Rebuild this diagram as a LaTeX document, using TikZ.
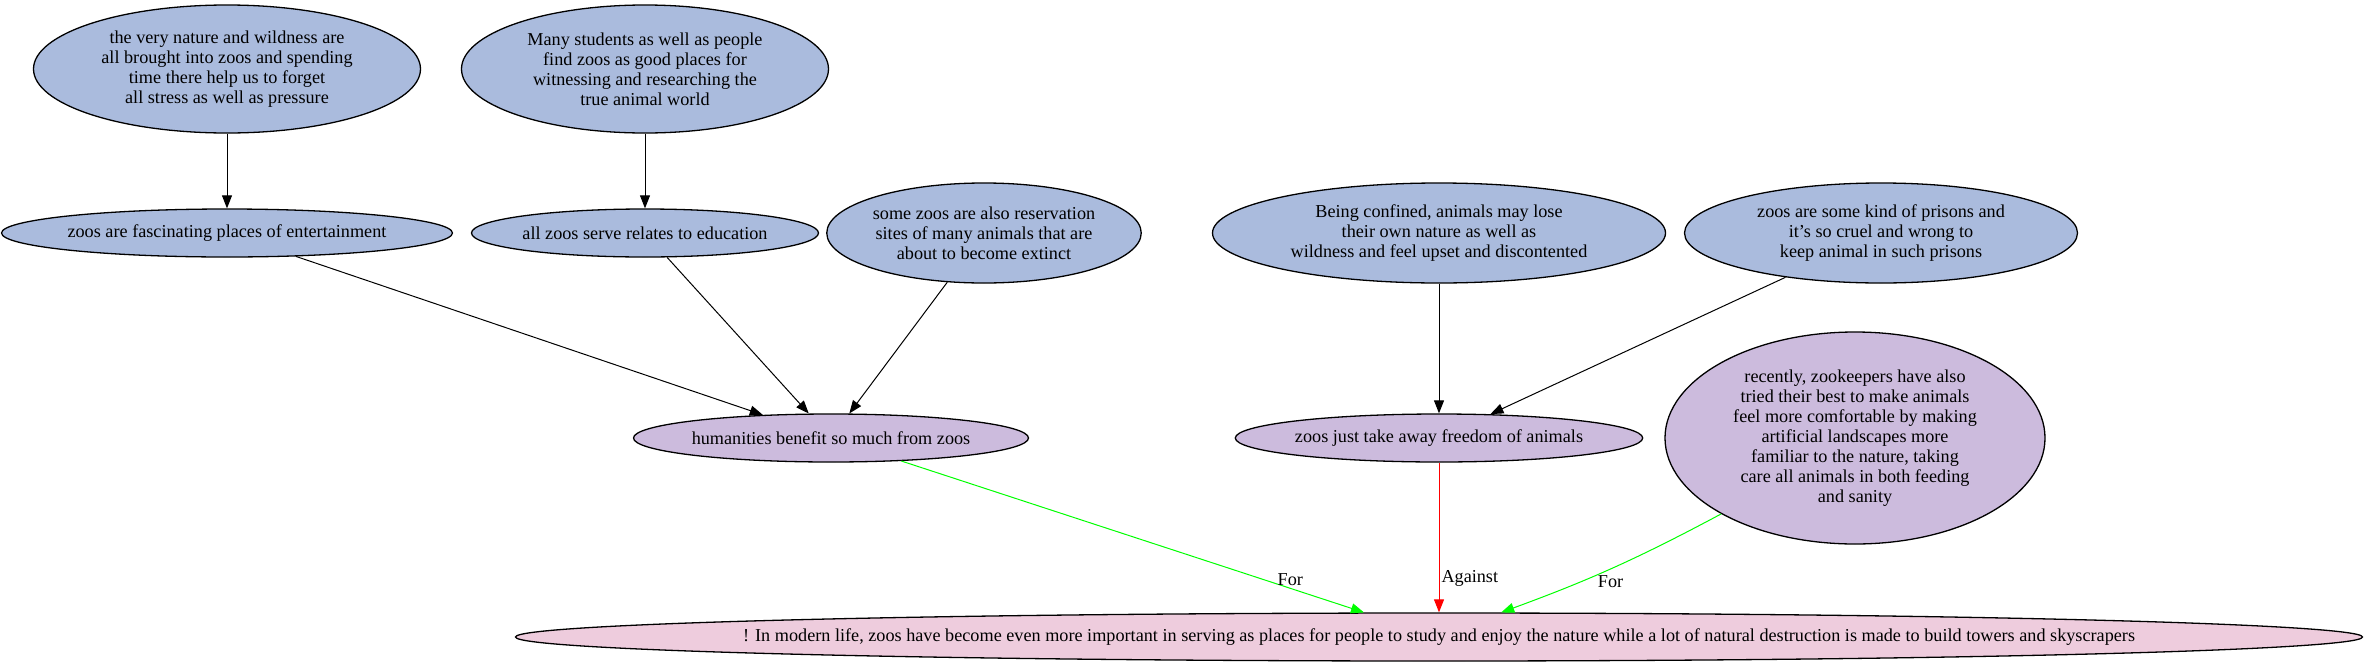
\documentclass[tikz,border=0pt]{standalone}
\usepackage{fontspec}
\setmainfont{Liberation Serif}
\usepackage{tikz}
\usetikzlibrary{positioning}
\usetikzlibrary{shapes.geometric}
\usetikzlibrary{arrows.meta}
\definecolor{blue1}{HTML}{AABBDD}
\definecolor{lilac1}{HTML}{CCBBDD}
\definecolor{pink1}{HTML}{EECCDD}
\tikzstyle{ellipse1} = [ellipse, inner sep=0pt, align=center, draw=black, line width=1.3pt, font=\fontsize{18.2}{20}\selectfont]
\tikzstyle{premise} = [ellipse1, fill=blue1]
\tikzstyle{argument} = [ellipse1, fill=lilac1]
\tikzstyle{arrow1} = [-{Triangle[length=13pt, width=10pt]}, line width=1pt]
\tikzstyle{label1} = [anchor=west, inner sep=0pt, text=black, font=\fontsize{18.2}{20}\selectfont]

\begin{document}
\begin{tikzpicture}[x=1pt, y=-1pt]
			\useasboundingbox (0,0) rectangle (2367,667);
			% top row
			\node[premise, minimum width=387, minimum height=128](nature) at (227,69){the very nature and wildness are\\all brought into zoos and spending\\time there help us to forget\\all stress as well as pressure};
			\node[premise, minimum width=367, minimum height=128](students) at (645,69){Many students as well as people\\find zoos as good places for\\witnessing and researching the\\true animal world};
			% second row
			\node[premise, minimum width=443, minimum height=48](fun) at (227,233){zoos are fascinating places of entertainment};
			\node[premise, minimum width=347, minimum height=48](edu) at (645,233){all zoos serve relates to education};
			\node[premise, minimum width=287, minimum height=100](reserve) at (984,233){some zoos are also reservation\\sites of many animals that are\\about to become extinct};
			\node[premise, minimum width=453, minimum height=100](confined) at (1439,233){Being confined, animals may lose\\their own nature as well as\\wildness and feel upset and discontented};
			\node[premise, minimum width=393, minimum height=100](prisons) at (1881,233){zoos are some kind of prisons and\\it's so cruel and wrong to\\keep animal in such prisons};
			% arguments
			\node[argument, minimum width=395, minimum height=48](benefit) at (831,438){humanities benefit so much from zoos};
			\node[argument, minimum width=406, minimum height=48](freedom) at (1439,438){zoos just take away freedom of animals};
			\node[argument, minimum width=380, minimum height=212](keepers) at (1855,438){recently, zookeepers have also\\tried their best to make animals\\feel more comfortable by making\\artificial landscapes more\\familiar to the nature, taking\\care all animals in both feeding\\and sanity};
			% main claim
			\node[ellipse1, fill=pink1, inner xsep=-150pt, minimum width=1847, minimum height=48](claim) at (1439,637){! In modern life, zoos have become even more important in serving as places for people to study and enjoy the nature while a lot of natural destruction is made to build towers and skyscrapers};

			\draw[arrow1] (nature) -- (fun);
			\draw[arrow1] (students) -- (edu);
			\draw[arrow1] (fun) -- (benefit);
			\draw[arrow1] (edu) -- (benefit);
			\draw[arrow1] (reserve) -- (benefit);
			\draw[arrow1] (confined) -- (freedom);
			\draw[arrow1] (prisons) -- (freedom);
			\draw[arrow1, green] (benefit) -- node[label1, pos=0.78, xshift=15pt]{For} (claim);
			\draw[arrow1, red] (freedom) -- node[label1, pos=0.775, xshift=2pt]{Against} (claim);
			\draw[arrow1, green] (keepers) to[bend left=4] node[label1, pos=0.66, xshift=17pt]{For} (claim);
		\end{tikzpicture}
\end{document}
